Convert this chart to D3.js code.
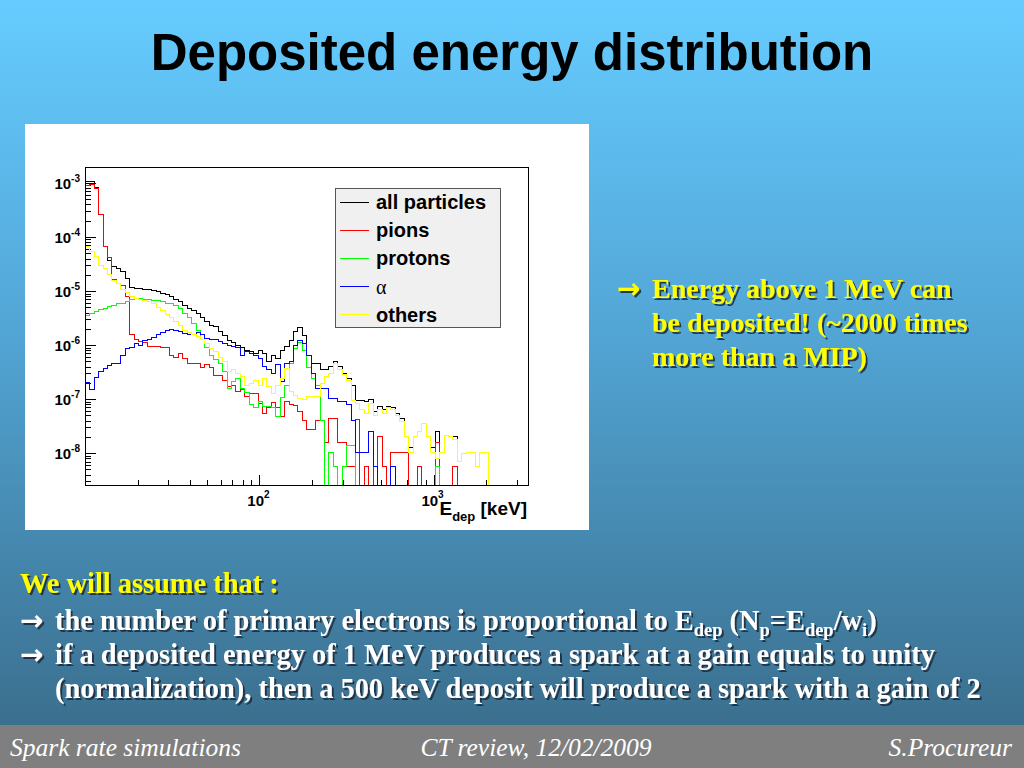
<!DOCTYPE html>
<html>
<head>
<meta charset="utf-8">
<script src="https://cdn.jsdelivr.net/npm/d3@7"></script>
<style>
body { margin: 0; overflow: hidden; }
</style>
</head>
<body>
<svg id="slide" width="1024" height="768"></svg>
<script>
// histogram contents: 100 log bins between 10 keV and 3.5 MeV (0 = empty bin)
var binLow = 10, binHigh = 3500, nBins = 100;

var allParticles = [1.05e-3, 1.05e-3, 8.3e-4, 2.6e-4, 6.6e-5, 3.6e-5, 2.8e-5, 2.6e-5, 2.3e-5, 1.7e-5,
  1.15e-5, 1.12e-5, 1.1e-5, 1.07e-5, 1.05e-5, 1.02e-5, 1.0e-5, 9.1e-6, 8.5e-6, 7.9e-6,
  7.1e-6, 6.3e-6, 5.5e-6, 4.8e-6, 4.4e-6, 3.9e-6, 3.2e-6, 2.75e-6, 2.35e-6, 2.2e-6,
  1.8e-6, 1.5e-6, 1.23e-6, 1.1e-6, 1.0e-6, 8.9e-7, 7.9e-7, 7.6e-7, 7.1e-7, 7.9e-7,
  7.1e-7, 5.0e-7, 6.3e-7, 5.6e-7, 7.9e-7, 9.3e-7, 1.23e-6, 1.78e-6, 2.1e-6, 1.5e-6,
  6.5e-7, 4.6e-7, 4.6e-7, 3.5e-7, 3.5e-7, 4.1e-7, 4.9e-7, 4.0e-7, 3.0e-7, 2.4e-7,
  1.8e-7, 9.3e-8, 9.3e-8, 8.9e-8, 1.0e-7, 5.9e-8, 7.4e-8, 6.3e-8, 7.4e-8, 7.1e-8,
  5.5e-8, 4.4e-8, 2.0e-8, 1.26e-8, 2.0e-8, 2.5e-8, 3.6e-8, 2.0e-8, 1.26e-8, 2.5e-8,
  1.05e-8, 2.1e-8, 2.0e-8, 2.0e-8, 6.9e-9, 1.0e-8, 1.05e-8, 1.05e-8, 5.6e-9, 1.05e-8,
  1.05e-8, 0, 0, 0, 0, 0, 0, 0, 0, 0];

var pions = [8.9e-4, 9.3e-4, 7.8e-4, 2.6e-4, 6.6e-5, 4.2e-5, 1.66e-5, 1.38e-5, 1.26e-5, 7.9e-6,
  1.55e-6, 1.26e-6, 1.17e-6, 1.1e-6, 9.5e-7, 9.3e-7, 9.3e-7, 8.9e-7, 8.9e-7, 6.5e-7,
  6.0e-7, 7.1e-7, 5.6e-7, 4.6e-7, 4.6e-7, 4.6e-7, 3.9e-7, 4.3e-7, 3.9e-7, 2.75e-7,
  2.75e-7, 2.2e-7, 1.7e-7, 1.8e-7, 1.38e-7, 1.48e-7, 1.1e-7, 1.26e-7, 1.26e-7, 8.3e-8,
  5.5e-8, 7.1e-8, 8.7e-8, 7.1e-8, 4.7e-8, 8.9e-8, 7.8e-8, 7.6e-8, 5.9e-8, 4.0e-8,
  2.7e-8, 2.7e-8, 4.0e-8, 4.0e-8, 1.6e-8, 4.4e-8, 4.4e-8, 1.6e-8, 1.6e-8, 5.6e-9,
  5.6e-9, 4.2e-8, 0, 5.6e-9, 0, 5.6e-9, 2.0e-8, 5.6e-9, 0, 1.05e-8,
  1.05e-8, 1.05e-8, 1.05e-8, 0, 0, 5.6e-9, 0, 0, 0, 1.6e-8,
  0, 0, 0, 5.6e-9, 0, 0, 0, 0, 0, 0,
  0, 0, 0, 0, 0, 0, 0, 0, 0, 0];

var protons = [3.5e-6, 3.8e-6, 4.2e-6, 4.5e-6, 4.7e-6, 5.1e-6, 5.5e-6, 5.8e-6, 6.0e-6, 6.5e-6,
  7.1e-6, 7.2e-6, 7.2e-6, 7.1e-6, 7.1e-6, 6.8e-6, 6.6e-6, 6.3e-6, 6.0e-6, 5.8e-6,
  5.4e-6, 4.7e-6, 3.9e-6, 3.2e-6, 2.5e-6, 1.9e-6, 1.26e-6, 8.9e-7, 6.5e-7, 5.4e-7,
  4.6e-7, 3.2e-7, 1.6e-7, 2.1e-7, 2.4e-7, 1.6e-7, 1.35e-7, 7.9e-8, 7.1e-8, 8.9e-8,
  7.4e-8, 7.4e-8, 7.1e-8, 4.7e-8, 1.05e-7, 1.8e-7, 4.5e-7, 8.5e-7, 1.1e-6, 7.9e-7,
  3.8e-7, 2.4e-7, 1.8e-7, 4.0e-8, 0, 1.05e-8, 5.6e-9, 0, 5.6e-9, 1.4e-8,
  1.4e-8, 0, 0, 0, 0, 0, 0, 0, 0, 0,
  0, 0, 0, 0, 0, 0, 0, 0, 0, 5.6e-9,
  0, 0, 0, 0, 0, 0, 0, 0, 0, 0,
  0, 0, 0, 0, 0, 0, 0, 0, 0, 0];

var alphas = [2.0e-7, 1.48e-7, 2.5e-7, 3.2e-7, 3.7e-7, 4.2e-7, 4.6e-7, 4.6e-7, 6.3e-7, 8.5e-7,
  9.1e-7, 1.05e-6, 1.0e-6, 1.23e-6, 1.26e-6, 1.38e-6, 1.55e-6, 1.74e-6, 1.9e-6, 1.95e-6,
  1.9e-6, 1.8e-6, 1.66e-6, 1.58e-6, 1.58e-6, 1.74e-6, 1.58e-6, 1.32e-6, 1.26e-6, 1.26e-6,
  1.17e-6, 1.07e-6, 1.0e-6, 9.3e-7, 8.9e-7, 6.3e-7, 7.6e-7, 7.1e-7, 6.3e-7, 5.6e-7,
  4.0e-7, 3.5e-7, 3.0e-7, 4.3e-7, 2.1e-7, 4.6e-7, 5.0e-7, 1.0e-6, 1.23e-6, 1.07e-6,
  6.5e-7, 3.0e-7, 1.6e-7, 1.6e-7, 1.6e-7, 1.02e-7, 1.02e-7, 8.9e-8, 8.9e-8, 7.9e-8,
  4.1e-8, 1.05e-8, 1.05e-8, 1.05e-8, 2.5e-8, 5.6e-9, 0, 0, 0, 5.6e-9,
  0, 0, 0, 0, 0, 0, 0, 0, 0, 0,
  0, 0, 0, 0, 0, 0, 0, 0, 0, 0,
  0, 0, 0, 0, 0, 0, 0, 0, 0, 0];

var others = [6.6e-5, 5.4e-5, 4.4e-5, 3.0e-5, 2.6e-5, 2.0e-5, 1.58e-5, 1.38e-5, 1.05e-5, 9.5e-6,
  7.9e-6, 7.4e-6, 7.1e-6, 6.8e-6, 6.5e-6, 5.9e-6, 5.0e-6, 4.4e-6, 3.7e-6, 3.2e-6,
  2.7e-6, 2.35e-6, 1.9e-6, 1.74e-6, 1.58e-6, 1.45e-6, 1.26e-6, 1.07e-6, 8.7e-7, 7.6e-7,
  6.0e-7, 5.0e-7, 3.2e-7, 3.5e-7, 3.0e-7, 2.6e-7, 1.8e-7, 1.95e-7, 2.2e-7, 1.8e-7,
  2.45e-7, 1.74e-7, 1.26e-7, 1.8e-7, 2.45e-7, 3.7e-7, 1.38e-7, 1.17e-7, 1.02e-7, 1.0e-7,
  1.1e-7, 1.1e-7, 1.1e-7, 1.95e-7, 2.6e-7, 3.0e-7, 4.6e-7, 3.5e-7, 2.8e-7, 2.2e-7,
  9.5e-8, 8.3e-8, 6.3e-8, 5.5e-8, 8.3e-8, 5.0e-8, 6.3e-8, 5.5e-8, 7.1e-8, 6.3e-8,
  5.0e-8, 3.8e-8, 2.0e-8, 1.05e-8, 2.0e-8, 2.5e-8, 3.5e-8, 2.0e-8, 1.05e-8, 7.9e-9,
  1.05e-8, 2.1e-8, 2.0e-8, 1.78e-8, 6.9e-9, 1.0e-8, 1.05e-8, 1.05e-8, 5.6e-9, 1.05e-8,
  1.05e-8, 0, 0, 0, 0, 0, 0, 0, 0, 0];

var seriesNames = ["all particles", "pions", "protons", "\u03b1", "others"];
var seriesColors = ["#000000", "#ff0000", "#00ff00", "#0000ff", "#ffff00"];
var seriesData = [allParticles, pions, protons, alphas, others];

var yMajor = [1e-3, 1e-4, 1e-5, 1e-6, 1e-7, 1e-8];
var yLabels = ["-3", "-4", "-5", "-6", "-7", "-8"];
var xMajor = [100, 1000];
var xLabels = ["2", "3"];

var svg = d3.select("#slide");
var sans = "'Liberation Sans', Arial, sans-serif";
var serif = "'Liberation Serif', 'Times New Roman', serif";

// background + text shadow filter
var defs = svg.append("defs");
var grad = defs.append("linearGradient").attr("id", "bg").attr("x1", 0).attr("y1", 0).attr("x2", 0).attr("y2", 1);
grad.append("stop").attr("offset", "0%").attr("stop-color", "#66ccff");
grad.append("stop").attr("offset", "45%").attr("stop-color", "#52a6d6");
grad.append("stop").attr("offset", "100%").attr("stop-color", "#3b6f8e");
defs.append("filter").attr("id", "shadow").attr("x", "-5%").attr("y", "-20%").attr("width", "110%").attr("height", "150%")
  .append("feDropShadow").attr("dx", 2).attr("dy", 2).attr("stdDeviation", 0.6)
  .attr("flood-color", "#1c2e3c").attr("flood-opacity", 0.9);
svg.append("rect").attr("width", 1024).attr("height", 725).attr("fill", "url(#bg)");
svg.append("rect").attr("y", 725).attr("width", 1024).attr("height", 43).attr("fill", "#7f7f7f");

svg.append("text").attr("x", 512).attr("y", 70).attr("text-anchor", "middle")
  .style("font-family", sans).style("font-weight", "bold").style("font-size", "51px")
  .text("Deposited energy distribution");

// chart panel
svg.append("rect").attr("x", 25).attr("y", 124).attr("width", 564).attr("height", 406).attr("fill", "#ffffff");

var x = d3.scaleLog().domain([binLow, binHigh]).range([85.3, 528.3]);
var y = d3.scaleLog().domain([2.5e-9, 1.95e-3]).range([485.7, 167.3]);
var edges = d3.range(nBins + 1).map(function(i) { return binLow * Math.pow(binHigh / binLow, i / nBins); });

var plot = svg.append("g");

// minor and major ticks (ROOT style, pointing inward)
var yMinor = [], xMinor = [];
d3.range(-9, -2).forEach(function(n) {
  d3.range(2, 10).forEach(function(k) {
    var v = k * Math.pow(10, n);
    if (v > y.domain()[0] && v < y.domain()[1]) yMinor.push(v);
  });
});
d3.range(1, 4).forEach(function(n) {
  d3.range(2, 10).forEach(function(k) {
    var v = k * Math.pow(10, n);
    if (v < binHigh) xMinor.push(v);
  });
});

plot.append("g").attr("transform", "translate(85.3,0)")
  .call(d3.axisLeft(y).tickValues(yMinor).tickSize(-6).tickFormat("").tickSizeOuter(0));
plot.append("g").attr("transform", "translate(85.3,0)")
  .call(d3.axisLeft(y).tickValues(yMajor).tickSize(-11).tickFormat("").tickSizeOuter(0));
plot.append("g").attr("transform", "translate(0,485.7)")
  .call(d3.axisBottom(x).tickValues(xMinor).tickSize(-6).tickFormat("").tickSizeOuter(0));
plot.append("g").attr("transform", "translate(0,485.7)")
  .call(d3.axisBottom(x).tickValues(xMajor).tickSize(-11).tickFormat("").tickSizeOuter(0));
plot.selectAll(".domain").remove();
plot.selectAll(".tick line").attr("stroke", "#000").attr("stroke-width", 1).attr("shape-rendering", "crispEdges");

// tick labels 10^n
var yLab = plot.selectAll(".ylab").data(yMajor).enter().append("text")
  .attr("x", 80).attr("y", function(d) { return y(d) + 6; }).attr("text-anchor", "end")
  .style("font-family", sans).style("font-weight", "bold").style("font-size", "15px");
yLab.append("tspan").text("10");
yLab.append("tspan").attr("dy", -7).style("font-size", "10px").text(function(d, i) { return yLabels[i]; });

var xLab = plot.selectAll(".xlab").data(xMajor).enter().append("text")
  .attr("x", function(d) { return x(d) - 1; }).attr("y", 506).attr("text-anchor", "middle")
  .style("font-family", sans).style("font-weight", "bold").style("font-size", "15px");
xLab.append("tspan").text("10");
xLab.append("tspan").attr("dy", -8).style("font-size", "10px").text(function(d, i) { return xLabels[i]; });

var xTitle = plot.append("text").attr("x", 527).attr("y", 515).attr("text-anchor", "end")
  .style("font-family", sans).style("font-weight", "bold").style("font-size", "19px");
xTitle.append("tspan").text("E");
xTitle.append("tspan").attr("dy", 6).style("font-size", "13px").text("dep");
xTitle.append("tspan").attr("dy", -6).text(" [keV]");

// histograms
function histPath(vals) {
  var p = d3.path();
  vals.forEach(function(v, i) {
    var yy = v > 0 ? y(v) : y.range()[0];
    if (i == 0) p.moveTo(x(edges[0]), yy); else p.lineTo(x(edges[i]), yy);
    p.lineTo(x(edges[i + 1]), yy);
  });
  return p.toString();
}
plot.selectAll(".hist").data(seriesData).enter().append("path")
  .attr("d", histPath).attr("fill", "none")
  .attr("stroke", function(d, i) { return seriesColors[i]; }).attr("stroke-width", 1)
  .attr("shape-rendering", "crispEdges");

// frame
plot.append("rect").attr("x", 85.3).attr("y", 167.3).attr("width", 443).attr("height", 318.4)
  .attr("fill", "none").attr("stroke", "#000").attr("stroke-width", 1).attr("shape-rendering", "crispEdges");

// legend
var legend = plot.append("g");
legend.append("rect").attr("x", 335).attr("y", 188).attr("width", 165.5).attr("height", 139)
  .attr("fill", "#f0f0f0").attr("stroke", "#555").attr("shape-rendering", "crispEdges");
var entry = legend.selectAll(".entry").data(seriesNames).enter().append("g")
  .attr("transform", function(d, i) { return "translate(0," + (202 + i * 28.2) + ")"; });
entry.append("line").attr("x1", 340).attr("x2", 369).attr("stroke", function(d, i) { return seriesColors[i]; })
  .attr("shape-rendering", "crispEdges");
entry.append("text").attr("x", 376).attr("y", 7)
  .style("font-family", function(d) { return d == "\u03b1" ? serif : sans; })
  .style("font-weight", function(d) { return d == "\u03b1" ? "normal" : "bold"; })
  .style("font-size", "20px").text(function(d) { return d; });

// slide text with drop shadow; pieces: [text, 0 normal | 1 subscript]
function slideText(xPos, yPos, pieces, color, size, family) {
  var t = svg.append("text").attr("x", xPos).attr("y", yPos).attr("filter", "url(#shadow)")
    .attr("fill", color).style("font-family", family || serif).style("font-weight", "bold").style("font-size", size + "px");
  var shift = 0;
  pieces.forEach(function(pc) {
    var target = pc[1] ? 6 : 0;
    t.append("tspan").attr("dy", target - shift).style("font-size", pc[1] ? (size * 0.65) + "px" : null).text(pc[0]);
    shift = target;
  });
}
var arrowFont = "'DejaVu Sans', sans-serif";

slideText(617, 298, [["\u2192"]], "#ffff00", 28, arrowFont);
slideText(652, 298, [["Energy above 1 MeV can"]], "#ffff00", 28);
slideText(652, 332, [["be deposited! (~2000 times"]], "#ffff00", 28);
slideText(652, 366, [["more than a MIP)"]], "#ffff00", 28);

slideText(20, 593, [["We will assume that :"]], "#ffff00", 28.4);
slideText(20, 630, [["\u2192"]], "#ffffff", 28, arrowFont);
slideText(55, 630, [["the number of primary electrons is proportional to E"], ["dep", 1], [" (N"], ["p", 1],
  ["=E"], ["dep", 1], ["/w"], ["i", 1], [")"]], "#ffffff", 28.4);
slideText(20, 664, [["\u2192"]], "#ffffff", 28, arrowFont);
slideText(55, 664, [["if a deposited energy of 1 MeV produces a spark at a gain equals to unity"]], "#ffffff", 28.4);
slideText(55, 698, [["(normalization), then a 500 keV deposit will produce a spark with a gain of 2"]], "#ffffff", 28.4);

// footer
var foot = svg.append("g").style("font-family", serif).style("font-style", "italic").style("font-size", "25.5px").attr("fill", "#ffffff");
foot.append("text").attr("x", 10).attr("y", 756).text("Spark rate simulations");
foot.append("text").attr("x", 536).attr("y", 756).attr("text-anchor", "middle").text("CT review, 12/02/2009");
foot.append("text").attr("x", 1012).attr("y", 756).attr("text-anchor", "end").text("S.Procureur");
</script>
</body>
</html>
